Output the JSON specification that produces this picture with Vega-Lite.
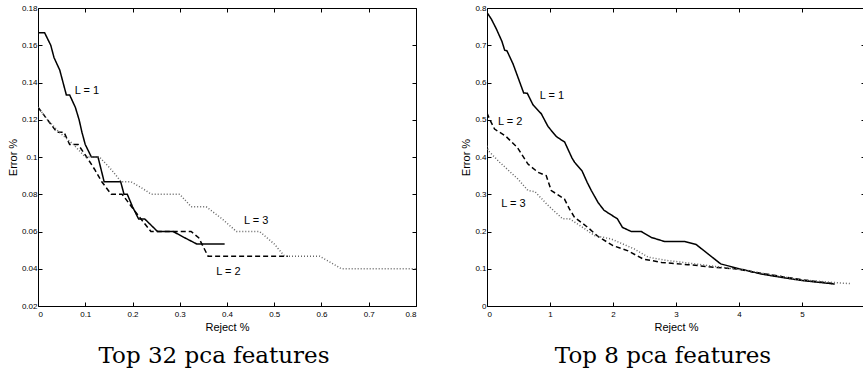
{
  "$schema": "https://vega.github.io/schema/vega-lite/v6.json",
  "background": "white",
  "autosize": {"type": "pad"},
  "padding": {"left": 6, "top": 3, "right": 0, "bottom": 0},
  "spacing": 71,
  "bounds": "flush",
  "config": {
    "view": {"stroke": "black", "strokeWidth": 1},
    "axis": {
      "labelFont": "Liberation Sans", "labelFontSize": 8, "labelColor": "#000",
      "titleFont": "Liberation Sans", "titleFontSize": 11, "titleFontWeight": "normal", "titleColor": "#000",
      "grid": false, "domain": false, "tickColor": "#000", "tickSize": -4, "labelPadding": 5, "titlePadding": 3
    },
    "axisBottom": {"labelPadding": 8},
    "title": {"font": "DejaVu Serif", "fontSize": 23, "fontWeight": "normal", "color": "#000", "orient": "bottom", "offset": 13}
  },
  "datasets": {
    "left": [
      {"x": 0, "y": 0.1667, "L": "1"}, {"x": 0.014, "y": 0.1667, "L": "1"}, {"x": 0.027, "y": 0.16, "L": "1"}, {"x": 0.034, "y": 0.1533, "L": "1"}, {"x": 0.046, "y": 0.1467, "L": "1"}, {"x": 0.06, "y": 0.1333, "L": "1"}, {"x": 0.067, "y": 0.1333, "L": "1"}, {"x": 0.079, "y": 0.1267, "L": "1"}, {"x": 0.087, "y": 0.12, "L": "1"}, {"x": 0.093, "y": 0.1133, "L": "1"}, {"x": 0.1, "y": 0.1067, "L": "1"}, {"x": 0.113, "y": 0.1, "L": "1"}, {"x": 0.127, "y": 0.1, "L": "1"}, {"x": 0.14, "y": 0.0867, "L": "1"}, {"x": 0.175, "y": 0.0867, "L": "1"}, {"x": 0.182, "y": 0.08, "L": "1"}, {"x": 0.189, "y": 0.08, "L": "1"}, {"x": 0.2, "y": 0.0733, "L": "1"}, {"x": 0.213, "y": 0.0667, "L": "1"}, {"x": 0.226, "y": 0.0667, "L": "1"}, {"x": 0.253, "y": 0.06, "L": "1"}, {"x": 0.286, "y": 0.06, "L": "1"}, {"x": 0.31, "y": 0.0567, "L": "1"}, {"x": 0.336, "y": 0.0533, "L": "1"}, {"x": 0.395, "y": 0.0533, "L": "1"},
      {"x": 0, "y": 0.1267, "L": "2"}, {"x": 0.02, "y": 0.12, "L": "2"}, {"x": 0.04, "y": 0.1133, "L": "2"}, {"x": 0.055, "y": 0.1133, "L": "2"}, {"x": 0.067, "y": 0.1067, "L": "2"}, {"x": 0.085, "y": 0.1067, "L": "2"}, {"x": 0.103, "y": 0.1, "L": "2"}, {"x": 0.12, "y": 0.0933, "L": "2"}, {"x": 0.135, "y": 0.0867, "L": "2"}, {"x": 0.155, "y": 0.08, "L": "2"}, {"x": 0.178, "y": 0.08, "L": "2"}, {"x": 0.198, "y": 0.0733, "L": "2"}, {"x": 0.218, "y": 0.0667, "L": "2"}, {"x": 0.239, "y": 0.06, "L": "2"}, {"x": 0.324, "y": 0.06, "L": "2"}, {"x": 0.34, "y": 0.0567, "L": "2"}, {"x": 0.36, "y": 0.0467, "L": "2"}, {"x": 0.529, "y": 0.0467, "L": "2"},
      {"x": 0, "y": 0.1267, "L": "3"}, {"x": 0.02, "y": 0.12, "L": "3"}, {"x": 0.045, "y": 0.1133, "L": "3"}, {"x": 0.075, "y": 0.1067, "L": "3"}, {"x": 0.1, "y": 0.1, "L": "3"}, {"x": 0.13, "y": 0.1, "L": "3"}, {"x": 0.155, "y": 0.0933, "L": "3"}, {"x": 0.176, "y": 0.0867, "L": "3"}, {"x": 0.197, "y": 0.0867, "L": "3"}, {"x": 0.22, "y": 0.0833, "L": "3"}, {"x": 0.24, "y": 0.08, "L": "3"}, {"x": 0.3, "y": 0.08, "L": "3"}, {"x": 0.324, "y": 0.0733, "L": "3"}, {"x": 0.356, "y": 0.0733, "L": "3"}, {"x": 0.39, "y": 0.0667, "L": "3"}, {"x": 0.42, "y": 0.06, "L": "3"}, {"x": 0.469, "y": 0.06, "L": "3"}, {"x": 0.5, "y": 0.0533, "L": "3"}, {"x": 0.522, "y": 0.0467, "L": "3"}, {"x": 0.596, "y": 0.0467, "L": "3"}, {"x": 0.62, "y": 0.0433, "L": "3"}, {"x": 0.642, "y": 0.04, "L": "3"}, {"x": 0.8, "y": 0.04, "L": "3"}
    ],
    "leftLabels": [
      {"x": 0.078, "y": 0.1354, "t": "L = 1"},
      {"x": 0.377, "y": 0.0383, "t": "L = 2"},
      {"x": 0.436, "y": 0.0658, "t": "L = 3"}
    ],
    "right": [
      {"x": 0, "y": 0.788, "L": "1"}, {"x": 0.07, "y": 0.77, "L": "1"}, {"x": 0.148, "y": 0.744, "L": "1"}, {"x": 0.238, "y": 0.71, "L": "1"}, {"x": 0.28, "y": 0.687, "L": "1"}, {"x": 0.317, "y": 0.685, "L": "1"}, {"x": 0.413, "y": 0.65, "L": "1"}, {"x": 0.5, "y": 0.61, "L": "1"}, {"x": 0.582, "y": 0.572, "L": "1"}, {"x": 0.64, "y": 0.571, "L": "1"}, {"x": 0.73, "y": 0.54, "L": "1"}, {"x": 0.862, "y": 0.516, "L": "1"}, {"x": 0.968, "y": 0.482, "L": "1"}, {"x": 1.1, "y": 0.455, "L": "1"}, {"x": 1.233, "y": 0.44, "L": "1"}, {"x": 1.35, "y": 0.397, "L": "1"}, {"x": 1.39, "y": 0.386, "L": "1"}, {"x": 1.508, "y": 0.363, "L": "1"}, {"x": 1.59, "y": 0.332, "L": "1"}, {"x": 1.656, "y": 0.31, "L": "1"}, {"x": 1.762, "y": 0.278, "L": "1"}, {"x": 1.857, "y": 0.257, "L": "1"}, {"x": 2.07, "y": 0.234, "L": "1"}, {"x": 2.15, "y": 0.211, "L": "1"}, {"x": 2.29, "y": 0.2, "L": "1"}, {"x": 2.45, "y": 0.2, "L": "1"}, {"x": 2.61, "y": 0.184, "L": "1"}, {"x": 2.82, "y": 0.173, "L": "1"}, {"x": 3.14, "y": 0.173, "L": "1"}, {"x": 3.32, "y": 0.165, "L": "1"}, {"x": 3.71, "y": 0.113, "L": "1"}, {"x": 3.98, "y": 0.101, "L": "1"}, {"x": 4.35, "y": 0.086, "L": "1"}, {"x": 4.67, "y": 0.077, "L": "1"}, {"x": 5.02, "y": 0.068, "L": "1"}, {"x": 5.52, "y": 0.059, "L": "1"},
      {"x": 0, "y": 0.518, "L": "2"}, {"x": 0.04, "y": 0.502, "L": "2"}, {"x": 0.12, "y": 0.475, "L": "2"}, {"x": 0.29, "y": 0.457, "L": "2"}, {"x": 0.48, "y": 0.426, "L": "2"}, {"x": 0.65, "y": 0.381, "L": "2"}, {"x": 0.81, "y": 0.359, "L": "2"}, {"x": 0.94, "y": 0.35, "L": "2"}, {"x": 1.02, "y": 0.31, "L": "2"}, {"x": 1.23, "y": 0.287, "L": "2"}, {"x": 1.31, "y": 0.26, "L": "2"}, {"x": 1.39, "y": 0.238, "L": "2"}, {"x": 1.6, "y": 0.211, "L": "2"}, {"x": 1.76, "y": 0.187, "L": "2"}, {"x": 2.0, "y": 0.162, "L": "2"}, {"x": 2.24, "y": 0.148, "L": "2"}, {"x": 2.48, "y": 0.126, "L": "2"}, {"x": 2.77, "y": 0.117, "L": "2"}, {"x": 3.19, "y": 0.111, "L": "2"}, {"x": 3.61, "y": 0.104, "L": "2"}, {"x": 3.93, "y": 0.1, "L": "2"}, {"x": 4.35, "y": 0.088, "L": "2"}, {"x": 4.67, "y": 0.079, "L": "2"}, {"x": 5.02, "y": 0.07, "L": "2"}, {"x": 5.5, "y": 0.06, "L": "2"},
      {"x": 0, "y": 0.43, "L": "3"}, {"x": 0.02, "y": 0.417, "L": "3"}, {"x": 0.2, "y": 0.386, "L": "3"}, {"x": 0.49, "y": 0.341, "L": "3"}, {"x": 0.65, "y": 0.31, "L": "3"}, {"x": 0.76, "y": 0.307, "L": "3"}, {"x": 0.97, "y": 0.27, "L": "3"}, {"x": 1.2, "y": 0.234, "L": "3"}, {"x": 1.31, "y": 0.234, "L": "3"}, {"x": 1.44, "y": 0.22, "L": "3"}, {"x": 1.71, "y": 0.189, "L": "3"}, {"x": 1.97, "y": 0.18, "L": "3"}, {"x": 2.34, "y": 0.153, "L": "3"}, {"x": 2.56, "y": 0.131, "L": "3"}, {"x": 2.87, "y": 0.122, "L": "3"}, {"x": 3.3, "y": 0.113, "L": "3"}, {"x": 3.72, "y": 0.104, "L": "3"}, {"x": 4.14, "y": 0.095, "L": "3"}, {"x": 4.5, "y": 0.084, "L": "3"}, {"x": 5.0, "y": 0.07, "L": "3"}, {"x": 5.5, "y": 0.063, "L": "3"}, {"x": 5.77, "y": 0.06, "L": "3"}
    ],
    "rightLabels": [
      {"x": 0.836, "y": 0.5646, "t": "L = 1"},
      {"x": 0.175, "y": 0.493, "t": "L = 2"},
      {"x": 0.227, "y": 0.274, "t": "L = 3"}
    ]
  },
  "hconcat": [
    {
      "width": 378, "height": 298,
      "title": {"text": "Top 32 pca features", "dx": -13},
      "layer": [
        {
          "data": {"name": "left"},
          "mark": {"type": "line", "clip": true},
          "encoding": {
            "x": {"field": "x", "type": "quantitative", "scale": {"domain": [0, 0.8], "nice": false, "zero": false},
                  "axis": {"orient": "bottom", "title": "Reject %", "values": [0, 0.1, 0.2, 0.3, 0.4, 0.5, 0.6, 0.7, 0.8], "format": "~g"}},
            "y": {"field": "y", "type": "quantitative", "scale": {"domain": [0.02, 0.18], "nice": false, "zero": false},
                  "axis": {"orient": "left", "title": "Error %", "values": [0.02, 0.04, 0.06, 0.08, 0.1, 0.12, 0.14, 0.16, 0.18], "format": "~g"}},
            "strokeDash": {"field": "L", "type": "nominal", "scale": {"domain": ["1", "2", "3"], "range": [[1, 0], [5, 3], [1, 2]]}, "legend": null},
            "color": {"field": "L", "type": "nominal", "scale": {"domain": ["1", "2", "3"], "range": ["#000000", "#000000", "#666666"]}, "legend": null},
            "strokeWidth": {"field": "L", "type": "nominal", "scale": {"domain": ["1", "2", "3"], "range": [1.5, 1.5, 1.2]}, "legend": null}
          }
        },
        {
          "data": {"name": "leftLabels"},
          "mark": {"type": "text", "align": "left", "baseline": "middle", "font": "Liberation Sans", "fontSize": 11, "fill": "#000000"},
          "encoding": {
            "x": {"field": "x", "type": "quantitative", "axis": {"orient": "top", "labels": false, "title": null, "values": [0, 0.1, 0.2, 0.3, 0.4, 0.5, 0.6, 0.7, 0.8]}},
            "y": {"field": "y", "type": "quantitative", "axis": {"orient": "right", "labels": false, "title": null, "values": [0.02, 0.04, 0.06, 0.08, 0.1, 0.12, 0.14, 0.16, 0.18]}},
            "text": {"field": "t", "type": "nominal"}
          }
        }
      ]
    },
    {
      "width": 378, "height": 298,
      "title": {"text": "Top 8 pca features", "dx": -13},
      "layer": [
        {
          "data": {"name": "right"},
          "mark": {"type": "line", "clip": true},
          "encoding": {
            "x": {"field": "x", "type": "quantitative", "scale": {"domain": [0, 6], "nice": false, "zero": false},
                  "axis": {"orient": "bottom", "title": "Reject %", "values": [0, 1, 2, 3, 4, 5], "format": "~g"}},
            "y": {"field": "y", "type": "quantitative", "scale": {"domain": [0, 0.8], "nice": false, "zero": false},
                  "axis": {"orient": "left", "title": "Error %", "values": [0, 0.1, 0.2, 0.3, 0.4, 0.5, 0.6, 0.7, 0.8], "format": "~g"}},
            "strokeDash": {"field": "L", "type": "nominal", "scale": {"domain": ["1", "2", "3"], "range": [[1, 0], [5, 3], [1, 2]]}, "legend": null},
            "color": {"field": "L", "type": "nominal", "scale": {"domain": ["1", "2", "3"], "range": ["#000000", "#000000", "#666666"]}, "legend": null},
            "strokeWidth": {"field": "L", "type": "nominal", "scale": {"domain": ["1", "2", "3"], "range": [1.5, 1.5, 1.2]}, "legend": null}
          }
        },
        {
          "data": {"name": "rightLabels"},
          "mark": {"type": "text", "align": "left", "baseline": "middle", "font": "Liberation Sans", "fontSize": 11, "fill": "#000000"},
          "encoding": {
            "x": {"field": "x", "type": "quantitative", "axis": {"orient": "top", "labels": false, "title": null, "values": [0, 1, 2, 3, 4, 5]}},
            "y": {"field": "y", "type": "quantitative", "axis": {"orient": "right", "labels": false, "title": null, "values": [0, 0.1, 0.2, 0.3, 0.4, 0.5, 0.6, 0.7, 0.8]}},
            "text": {"field": "t", "type": "nominal"}
          }
        }
      ]
    }
  ],
  "resolve": {"scale": {"x": "independent", "y": "independent", "strokeDash": "independent", "color": "independent", "strokeWidth": "independent"}}
}
